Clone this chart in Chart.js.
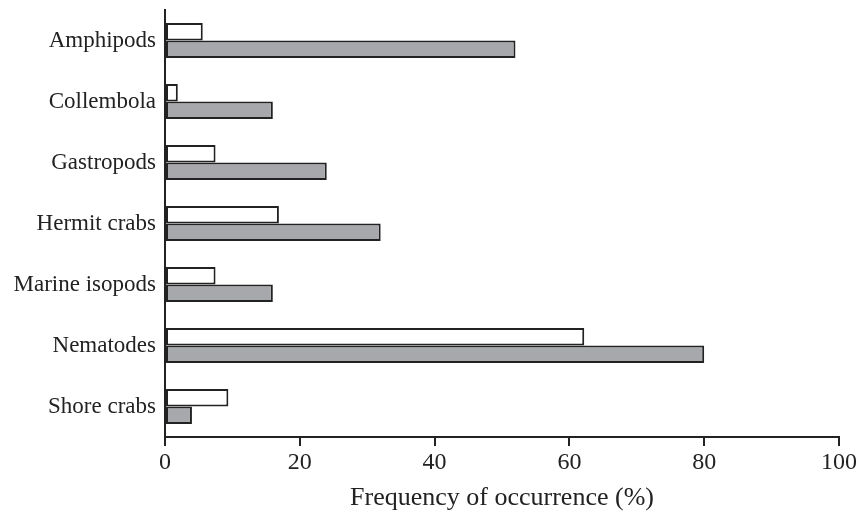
<!DOCTYPE html>
<html>
<head>
<meta charset="utf-8">
<script src="https://cdn.jsdelivr.net/npm/chart.js@4/dist/chart.umd.min.js"></script>
<style>
  html, body { margin: 0; padding: 0; background: #fff; }
  #wrap { width: 859px; height: 514px; }
</style>
</head>
<body>
<div id="wrap"><canvas id="chart" width="859" height="514"></canvas></div>
<script>
// Prey categories and frequency of occurrence (%) for the two groups
const categories = ["Amphipods", "Collembola", "Gastropods", "Hermit crabs", "Marine isopods", "Nematodes", "Shore crabs"];
const openValues = [5.6, 1.9, 7.5, 16.9, 7.5, 62.2, 9.4];
const grayValues = [52, 16, 24, 32, 16, 80, 4];
const xTicks = [0, 20, 40, 60, 80, 100];

const serif = "'Liberation Serif', 'Times New Roman', serif";
const ink = "#222222";

new Chart(document.getElementById("chart").getContext("2d"), {
    type: "bar",
    data: {
        labels: categories,
        datasets: [
            {
                label: "Group 1",
                data: openValues,
                backgroundColor: "#ffffff",
                borderColor: ink,
                borderWidth: 2,
                borderSkipped: false,
            },
            {
                label: "Group 2",
                data: grayValues,
                backgroundColor: "#a7a8ab",
                borderColor: ink,
                borderWidth: 2,
                borderSkipped: false,
            },
        ],
    },
    options: {
        indexAxis: "y",
        responsive: false,
        animation: false,
        categoryPercentage: 0.575,
        barPercentage: 1,
        layout: { padding: { top: 10, right: 19, left: 0, bottom: 0 } },
        plugins: {
            legend: { display: false },
            tooltip: { enabled: false },
        },
        scales: {
            x: {
                min: 0,
                max: 100,
                afterBuildTicks: (axis) => { axis.ticks = xTicks.map((v) => ({ value: v })); },
                afterFit: (axis) => { axis.height = 77; },
                border: { display: true, color: ink, width: 2 },
                grid: { drawOnChartArea: false, drawTicks: true, tickLength: 9, color: ink, lineWidth: 2 },
                ticks: { color: ink, font: { family: serif, size: 24 }, padding: 2, maxRotation: 0 },
                title: {
                    display: true,
                    text: "Frequency of occurrence (%)",
                    color: ink,
                    font: { family: serif, size: 26 },
                    padding: { top: 2, bottom: 0 },
                },
            },
            y: {
                afterFit: (axis) => {
                    axis.width = 165;
                    axis.paddingTop = 0;
                    axis.paddingBottom = 0;
                },
                border: { display: true, color: ink, width: 2 },
                grid: { display: false, drawTicks: false },
                ticks: { color: ink, font: { family: serif, size: 23 }, padding: 9 },
            },
        },
    },
});
</script>
</body>
</html>
